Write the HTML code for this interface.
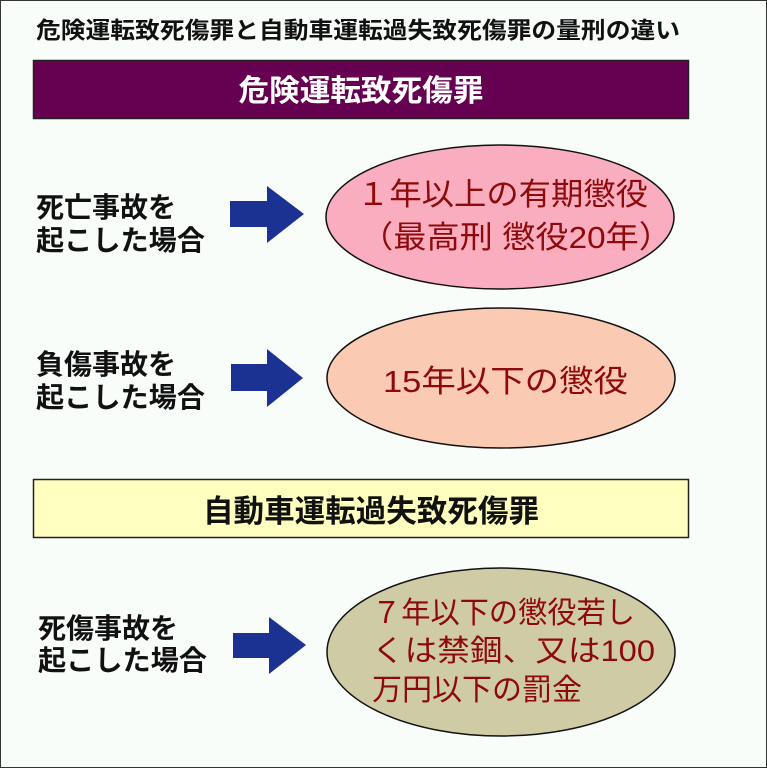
<!DOCTYPE html>
<html><head><meta charset="utf-8"><style>
html,body{margin:0;padding:0;background:#fbfdfb;}
svg{display:block;}
text{font-family:"Liberation Sans","Noto Sans CJK JP",sans-serif;}
</style></head><body>
<svg width="767" height="768" viewBox="0 0 767 768" xmlns="http://www.w3.org/2000/svg">
<rect x="0.5" y="0.5" width="766" height="767" fill="#f9fdfa" stroke="#333" stroke-width="1"/>
<text x="36" y="38" font-size="23" font-weight="bold" fill="#111" textLength="644" lengthAdjust="spacingAndGlyphs">危険運転致死傷罪と自動車運転過失致死傷罪の量刑の違い</text>

<rect x="33.5" y="60.5" width="655" height="58" fill="#660050" stroke="#222" stroke-width="1.5"/>
<text x="361" y="101" font-size="30" font-weight="bold" fill="#fff" text-anchor="middle" textLength="245" lengthAdjust="spacingAndGlyphs">危険運転致死傷罪</text>

<text x="36" y="217" font-size="28" font-weight="bold" fill="#111">死亡事故を</text>
<text x="36" y="250" font-size="28" font-weight="bold" fill="#111" textLength="169" lengthAdjust="spacingAndGlyphs">起こした場合</text>
<polygon points="230,201 267,201 267,186 304,214 267,243 267,227 230,227" fill="#1c3292"/>
<ellipse cx="500" cy="217" rx="174" ry="72" fill="#f9adbf" stroke="#111" stroke-width="1.5"/>
<text x="357" y="205" font-size="31" fill="#8e0a0a" textLength="291" lengthAdjust="spacingAndGlyphs">１年以上の有期懲役</text>
<text x="360" y="248" font-size="31" fill="#8e0a0a" textLength="312" lengthAdjust="spacingAndGlyphs">（最高刑 懲役20年）</text>

<text x="36" y="374" font-size="28" font-weight="bold" fill="#111">負傷事故を</text>
<text x="36" y="407" font-size="28" font-weight="bold" fill="#111" textLength="169" lengthAdjust="spacingAndGlyphs">起こした場合</text>
<polygon points="231,364 267,364 267,349 303,378 267,407 267,391 231,391" fill="#1c3292"/>
<ellipse cx="501" cy="378" rx="174" ry="70" fill="#fbcab2" stroke="#111" stroke-width="1.5"/>
<text x="383" y="392" font-size="31" fill="#8e0a0a" textLength="245" lengthAdjust="spacingAndGlyphs">15年以下の懲役</text>

<rect x="33.5" y="479.5" width="655" height="58" fill="#ffffbf" stroke="#222" stroke-width="1.5"/>
<text x="371" y="522" font-size="31" font-weight="bold" fill="#111" text-anchor="middle" textLength="336" lengthAdjust="spacingAndGlyphs">自動車運転過失致死傷罪</text>

<text x="38" y="638" font-size="28" font-weight="bold" fill="#111">死傷事故を</text>
<text x="38" y="670" font-size="28" font-weight="bold" fill="#111" textLength="169" lengthAdjust="spacingAndGlyphs">起こした場合</text>
<polygon points="233,633 269,633 269,617 306,645 269,674 269,658 233,658" fill="#1c3292"/>
<ellipse cx="501" cy="652" rx="174" ry="84" fill="#cfcca5" stroke="#111" stroke-width="1.5"/>
<text x="372" y="623" font-size="30" fill="#8e0a0a" textLength="263" lengthAdjust="spacingAndGlyphs">７年以下の懲役若し</text>
<text x="372" y="661" font-size="30" fill="#8e0a0a" textLength="283" lengthAdjust="spacingAndGlyphs">くは禁錮、又は100</text>
<text x="372" y="700" font-size="30" fill="#8e0a0a" textLength="210" lengthAdjust="spacingAndGlyphs">万円以下の罰金</text>
</svg>
</body></html>
